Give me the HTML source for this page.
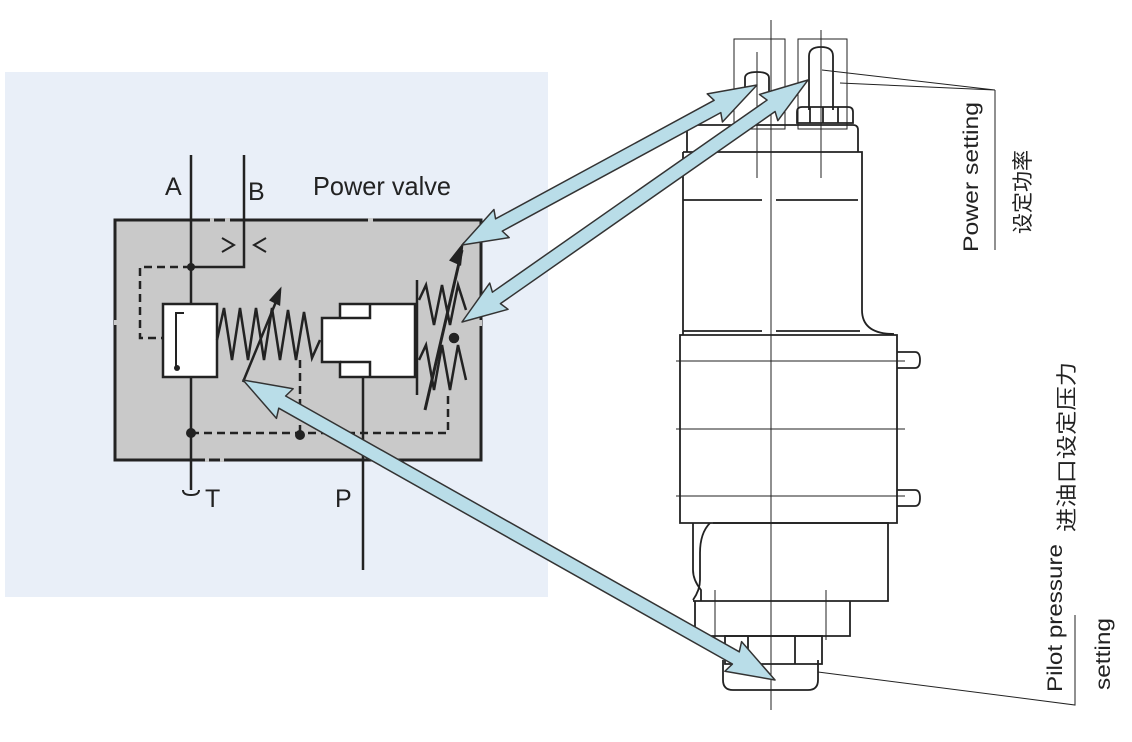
<!DOCTYPE html>
<html><head><meta charset="utf-8"><style>
html,body{margin:0;padding:0;background:#fff;}
svg{display:block;}
text{font-family:"Liberation Sans","Noto Sans CJK SC",sans-serif;fill:#222;}
</style></head><body>
<svg width="1132" height="742" viewBox="0 0 1132 742" xmlns="http://www.w3.org/2000/svg">
<rect width="1132" height="742" fill="#fff"/>
<rect x="5" y="72" width="543" height="525" fill="#e9eff8"/>
<rect x="115" y="220" width="366" height="240" fill="#c9c9c9" stroke="#222" stroke-width="3"/>
<g fill="none" stroke="#222" stroke-width="2.5">
<path d="M191 155 V490"/>
<path d="M244 155 V267 H191"/>
<path d="M183 490 q0 5 8 5 q8 0 8 -5" stroke-width="2"/>
<path d="M222 238 l12 7 l-12 7 M266 238 l-12 7 l12 7" stroke-width="2"/>
<path d="M191 267 H140 V338 H163" stroke-dasharray="8,5"/>
<rect x="163" y="304" width="54" height="73" fill="#fff"/>
<path d="M184 313 H176 V370" stroke-width="2"/>
<path d="M217 340 L224 308 L232 360 L240 308 L248 360 L256 308 L264 360 L272 308 L280 360 L288 310 L296 360 L304 312 L312 358 L320 340"/>
<path d="M243 382 L280 292" stroke-width="2.5"/>
<path d="M280 290 l-9 10 l8 4 z" fill="#222"/>
<path d="M322 318 H340 V304 H415 V377 H340 V362 H322 Z" fill="#fff"/>
<path d="M340 318 H370 V304 M340 362 H370 V377"/>
<path d="M417 280 V395"/>
<path d="M419 300 L426 285 L434 325 L442 285 L450 325 L458 285 L466 310"/>
<path d="M419 360 L426 345 L434 390 L442 345 L450 390 L458 345 L466 380"/>
<path d="M425 410 L462 250" stroke-width="3"/>
<path d="M462 246 l-11 14 l9 4 z" fill="#222"/>
<circle cx="454" cy="338" r="4" fill="#222"/>
<path d="M191 433 H448 V395" stroke-dasharray="8,5"/>
<path d="M300 360 V433" stroke-dasharray="8,5"/>
<path d="M363 377 V570"/>
</g>
<circle cx="191" cy="267" r="4" fill="#222"/>
<circle cx="191" cy="433" r="5" fill="#222"/>
<circle cx="300" cy="435" r="5" fill="#222"/>
<circle cx="177" cy="368" r="3" fill="#222"/>
<g stroke="#c9c9c9" stroke-width="4">
<path d="M210 220 h4 M225 220 h5 M368 220 h5 M116 320 v5 M480 320 v6 M205 460 h4 M220 460 h4"/>
</g>
<text x="165" y="195" font-size="25">A</text>
<text x="248" y="200" font-size="25">B</text>
<text x="313" y="195" font-size="26" textLength="138" lengthAdjust="spacingAndGlyphs">Power valve</text>
<text x="205" y="507" font-size="25">T</text>
<text x="335" y="507" font-size="25">P</text>

<g fill="none" stroke="#222" stroke-width="1.8">
<rect x="734" y="39" width="51" height="90" stroke-width="1"/>
<rect x="798" y="39" width="49" height="90" stroke-width="1"/>
<path d="M745 98 V78 q0 -6 12 -6 q12 0 12 6 V98"/>
<path d="M809 110 V56 q0 -9 12 -9 q12 0 12 9 V110"/>
<path d="M797 123 V112 q0 -5 5 -5 H848 q5 0 5 5 V123 Z M810 107 V123 M823 107 V123 M838 107 V123"/>
<path d="M687 152 V130 q0 -5 5 -5 H853 q5 0 5 5 V152"/>
<path d="M683 152 H862 V310 q0 24 32 24 M683 152 V335"/>
<path d="M683 200 H762 M776 200 H858 M683 331 H762 M776 331 H860"/>
<path d="M680 335 H897 V523 H680 Z"/>
<path d="M897 352 h18 q5 0 5 8 q0 8 -5 8 h-18 M897 490 h18 q5 0 5 8 q0 8 -5 8 h-18"/>
<path d="M693 523 V570 q0 10 8 20 V601 M710 523 q-10 10 -10 30 V580 q0 10 -7 20 M713 523 H888 V601 H693"/>
<path d="M695 601 V636 H850 V601"/>
<path d="M725 636 h97 v28 h-97 z M748 636 v28 M795 636 v28"/>
<path d="M723 660 v20 q0 10 10 10 h75 q10 0 10 -10 v-20"/>
</g>
<g stroke="#222" stroke-width="1" fill="none">
<path d="M771 20 V710"/>
<path d="M757 52 V178 M821 30 V178"/>
<path d="M676 361 H905 M676 429 H905 M676 496 H905"/>
<path d="M715 590 V640 M826 590 V640"/>
<path d="M822 70 L995 90 M840 83 L995 90 M995 90 V250"/>
<path d="M818 672 L1075 705 V615"/>
</g>
<text transform="translate(978,252) rotate(-90)" font-size="21" textLength="150" lengthAdjust="spacingAndGlyphs">Power setting</text>
<text transform="translate(1030,234) rotate(-90)" font-size="21">设定功率</text>
<text transform="translate(1062,692) rotate(-90)" font-size="21" textLength="148" lengthAdjust="spacingAndGlyphs">Pilot pressure</text>
<text transform="translate(1110,690) rotate(-90)" font-size="21" textLength="72" lengthAdjust="spacingAndGlyphs">setting</text>
<text transform="translate(1074,532) rotate(-90)" font-size="21" textLength="170" lengthAdjust="spacingAndGlyphs">进油口设定压力</text>

<g fill="#b9dde8" stroke="#333" stroke-width="1.5" stroke-linejoin="round">
<g transform="translate(462,245) rotate(-28.47)"><polygon points="0,0 45,-16 42,-7 290.6,-7 287.6,-16 335.6,0 287.6,16 290.6,7 42,7 45,16"/></g>
<g transform="translate(462,322) rotate(-34.97)"><polygon points="0,0 45,-16 42,-7 377.2,-7 374.2,-16 422.2,0 374.2,16 377.2,7 42,7 45,16"/></g>
<g transform="translate(243,380) rotate(29.42)"><polygon points="0,0 48,-17 45,-7 565.8,-7 562.8,-17 610.8,0 562.8,17 565.8,7 45,7 48,17"/></g>
</g>
</svg>
</body></html>
